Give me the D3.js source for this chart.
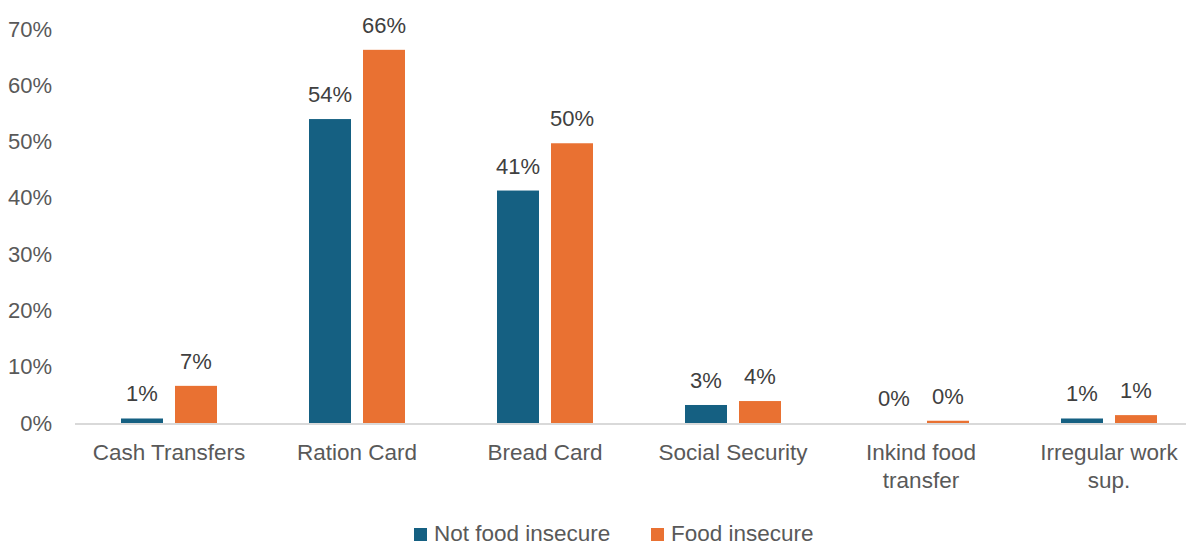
<!DOCTYPE html>
<html>
<head>
<meta charset="utf-8">
<script src="https://cdn.jsdelivr.net/npm/d3@7"></script>
<style>
  html, body { margin: 0; padding: 0; background: #fff; }
  svg { display: block; font-family: "Liberation Sans", Arial, sans-serif; }
</style>
</head>
<body>
<svg id="chart" width="1186" height="546"></svg>
<script>
// values (percent)
var categories = ['Cash Transfers', 'Ration Card', 'Bread Card', 'Social Security', 'Inkind food transfer', 'Irregular work sup.'];
var series = ['Not food insecure', 'Food insecure'];
var notFoodInsecure = [0.8, 54.0, 41.3, 3.2, 0.0, 0.8];
var foodInsecure = [6.6, 66.3, 49.7, 3.9, 0.4, 1.4];
var yTicks = [0, 10, 20, 30, 40, 50, 60, 70];
var colors = ['#156082', '#E97132'];

var svg = d3.select('#chart'),
    left = 75,
    right = 1203,
    base = 423,
    top_y = 29;

var x0 = d3.scaleBand().domain(categories).range([left, right]).padding(0);
var x1 = d3.scaleBand().domain(series).range([0, 96]).paddingInner(12 / 54);
var y = d3.scaleLinear().domain([0, 70]).range([base, top_y]);
var color = d3.scaleOrdinal().domain(series).range(colors);

var rows = categories.map(function(c, i) {
  return { cat: c, vals: [
    { s: series[0], v: notFoodInsecure[i] },
    { s: series[1], v: foodInsecure[i] }
  ]};
});

// y axis labels, no line
var yAxis = d3.axisLeft(y).tickValues(yTicks).tickFormat(function(d) { return d + '%'; }).tickSize(0).tickPadding(0);
var ya = svg.append('g').attr('transform', 'translate(52,0)').call(yAxis);
ya.select('.domain').remove();
ya.selectAll('text')
  .attr('fill', '#595959')
  .style('font-size', '22px')
  .style('font-family', '"Liberation Sans", Arial, sans-serif');

// bars
var groups = svg.append('g').selectAll('g').data(rows).enter().append('g')
  .attr('transform', function(d) { return 'translate(' + (x0(d.cat) + (x0.bandwidth() - 96) / 2) + ',0)'; });

groups.selectAll('rect').data(function(d) { return d.vals; }).enter().append('rect')
  .attr('x', function(d) { return x1(d.s); })
  .attr('y', function(d) { return y(d.v); })
  .attr('width', x1.bandwidth())
  .attr('height', function(d) { return base - y(d.v); })
  .attr('fill', function(d) { return color(d.s); });

groups.selectAll('text').data(function(d) { return d.vals; }).enter().append('text')
  .attr('x', function(d) { return x1(d.s) + x1.bandwidth() / 2; })
  .attr('y', function(d) { return y(d.v) - 17; })
  .attr('text-anchor', 'middle')
  .attr('fill', '#404040')
  .style('font-size', '22px')
  .text(function(d) { return Math.round(d.v) + '%'; });

// baseline
svg.append('line')
  .attr('x1', left).attr('x2', 1186)
  .attr('y1', base + 1).attr('y2', base + 1)
  .attr('stroke', '#D9D9D9').attr('stroke-width', 2);

// category labels, wrapped
var xAxis = d3.axisBottom(x0).tickSize(0).tickPadding(0);
var xa = svg.append('g').attr('transform', 'translate(0,' + base + ')').call(xAxis);
xa.select('.domain').remove();
xa.selectAll('text')
  .attr('fill', '#595959')
  .attr('y', 0).attr('dy', null)
  .style('font-size', '22.5px')
  .style('font-family', '"Liberation Sans", Arial, sans-serif')
  .each(function(d) {
    var t = d3.select(this), words = d.split(' '), line = [], lines = [];
    t.text(null);
    var probe = t.append('tspan');
    words.forEach(function(w) {
      line.push(w);
      probe.text(line.join(' '));
      if (probe.node().getComputedTextLength() > 165 && line.length > 1) {
        line.pop();
        lines.push(line.join(' '));
        line = [w];
      }
    });
    lines.push(line.join(' '));
    probe.remove();
    lines.forEach(function(l, i) {
      t.append('tspan').attr('x', 0).attr('y', 37 + i * 28).text(l);
    });
  });

// legend
var legend = svg.append('g').selectAll('g').data(series).enter().append('g')
  .attr('transform', function(d, i) { return 'translate(' + [414, 651][i] + ',528)'; });
legend.append('rect').attr('width', 13).attr('height', 13).attr('fill', function(d) { return color(d); });
legend.append('text').attr('x', 20).attr('y', 13)
  .attr('fill', '#595959').style('font-size', '22.5px')
  .text(function(d) { return d; });
</script>
</body>
</html>
